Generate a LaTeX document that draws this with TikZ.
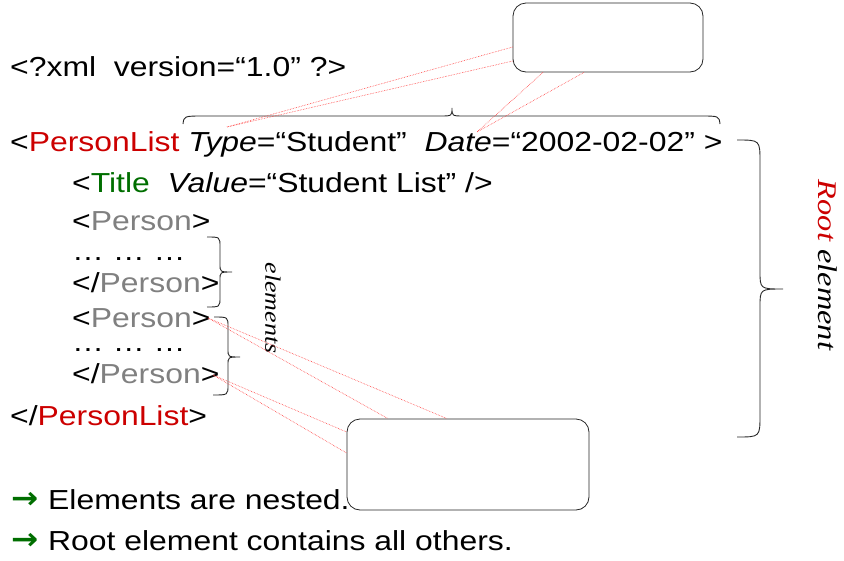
\documentclass[tikz,border=0pt]{standalone}
\usepackage{fontspec}
\setmainfont{Liberation Sans}[FakeStretch=1.16]
\newfontfamily\serifit{Liberation Serif}
\newfontfamily\arrowfont{DejaVu Sans}
\usetikzlibrary{calc}
\definecolor{xred}{RGB}{204,0,0}
\definecolor{xgreen}{RGB}{0,110,0}
\definecolor{xgray}{RGB}{128,128,128}
\definecolor{xline}{RGB}{255,60,60}
\tikzset{
  codeline/.style={anchor=base west, inner sep=0pt, font=\fontsize{27.5}{30}\selectfont},
  dotline/.style={codeline, text height=4pt, text depth=0pt},
  callout/.style={draw=black!85, line width=0.8pt, rounded corners=13pt, fill=white},
  pointer/.style={draw=xline, densely dotted, line width=0.6pt},
  bracepath/.style={draw=black!85, line width=0.9pt},
  vlabel/.style={rotate=-90, inner sep=0pt, font=\serifit\itshape},
  bulletarrow/.style={anchor=base west, inner sep=0pt, text=xgreen, font=\arrowfont\bfseries\fontsize{26}{30}\selectfont}
}
\begin{document}
\begin{tikzpicture}[x=1pt,y=-1pt]
\useasboundingbox (0,0) rectangle (844,560);

% code text
\node[codeline] (xmldecl) at (10,76) {<?xml~ version=“1.0” ?>};
\node[codeline] (rootopen) at (10,151) {<\textcolor{xred}{PersonList} \textit{Type}=“Student”~ \textit{Date}=“2002-02-02” >};
\node[codeline] (title) at (72,192) {<\textcolor{xgreen}{Title}~ \textit{Value}=“Student List” />};
\node[codeline] (p1o) at (72,230) {<\textcolor{xgray}{Person}>};
\node[dotline] (d1) at (72,260) {… … …};
\node[codeline] (p1c) at (72,292) {</\textcolor{xgray}{Person}>};
\node[codeline] (p2o) at (72,327) {<\textcolor{xgray}{Person}>};
\node[dotline] (d2) at (72,351) {… … …};
\node[codeline] (p2c) at (72,383) {</\textcolor{xgray}{Person}>};
\node[codeline] (rootclose) at (10,425) {</\textcolor{xred}{PersonList}>};

% bullets
\node[bulletarrow] (a1) at (11,508) {\scalebox{1.25}[1.15]{→}};
\node[codeline] (b1) at (48,509) {Elements are nested.};
\node[bulletarrow] (a2) at (11,549) {\scalebox{1.25}[1.15]{→}};
\node[codeline] (b2) at (48,550) {Root element contains all others.};

% braces
\draw[bracepath] (183,124) .. controls (184,116) .. (204,116) -- (440,116)
  .. controls (452,116) .. (452,108) .. controls (452,116) .. (464,116)
  -- (700,116) .. controls (719,116) .. (720,124);
\draw[bracepath] (737,140) .. controls (760,140) .. (760,162) -- (760,271)
  .. controls (760,289) .. (783,289) .. controls (760,289) .. (760,307)
  -- (760,415) .. controls (760,437) .. (737,437);
\draw[bracepath] (207,237) .. controls (220,237) .. (220,247) -- (220,264)
  .. controls (220,272) .. (232,272) .. controls (220,272) .. (220,280)
  -- (220,297) .. controls (220,307) .. (207,307);
\draw[bracepath] (214,317) .. controls (228,317) .. (228,327) -- (228,349)
  .. controls (228,357) .. (240,357) .. controls (228,357) .. (228,365)
  -- (228,385) .. controls (228,395) .. (213,395);

% vertical labels
\node[vlabel, font=\serifit\itshape\fontsize{27}{30}\selectfont] (rootlbl) at (828,265)
  {\scalebox{1.2}[1]{\textcolor{xred}{Root} element}};
\node[vlabel, font=\serifit\itshape\fontsize{22}{26}\selectfont] (elemlbl) at (273,308)
  {\scalebox{1.18}[1]{elements}};

% callout boxes
\node[callout, minimum width=190pt, minimum height=69pt] (tbox) at (608,37.5) {};
\node[callout, minimum width=242pt, minimum height=91pt] (bbox) at (468,464.5) {};

% pointer anchors
\coordinate (typept) at (227,127);
\coordinate (datept) at (477,132);
\coordinate (p2tip) at (208,318);
\coordinate (p2ctip) at (213,375);

\draw[pointer] ($(tbox.west)+(0,9.5)$) -- (typept);
\draw[pointer] ($(tbox.west)+(0,23.5)$) -- (typept);
\draw[pointer] ($(tbox.south)+(-65,0)$) -- (datept);
\draw[pointer] ($(tbox.south)+(-24,0)$) -- (datept);
\draw[pointer] (p2tip) -- ($(bbox.north)+(-80,0)$);
\draw[pointer] (p2tip) -- ($(bbox.north)+(-21,0)$);
\draw[pointer] (p2ctip) -- ($(bbox.west)+(0,-32.5)$);
\draw[pointer] (p2ctip) -- ($(bbox.west)+(0,-11.5)$);
\end{tikzpicture}
\end{document}
